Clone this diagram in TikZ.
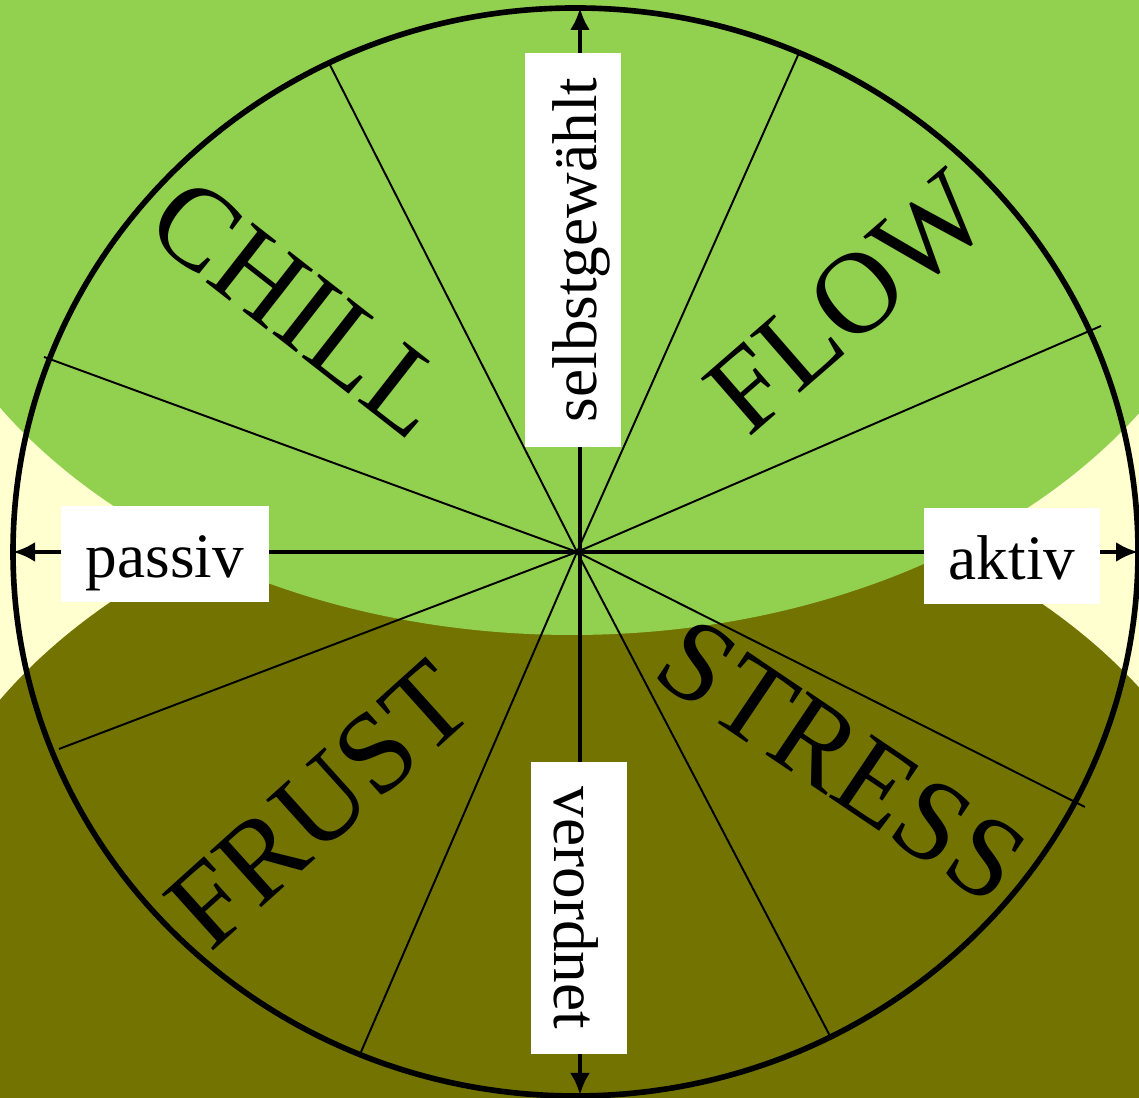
\documentclass[tikz,border=0pt]{standalone}
\usepackage{fontspec}
\setmainfont{Liberation Serif}
\usetikzlibrary{arrows.meta}
\definecolor{paleyellow}{RGB}{255,255,208}
\definecolor{chillgreen}{RGB}{146,208,80}
\definecolor{frustolive}{RGB}{114,115,0}

\begin{document}
\begin{tikzpicture}[>={Latex[length=2.2mm,width=2mm]},
	axtag/.style={fill=white, font=\fontsize{18}{20}\selectfont, inner xsep=2.5mm, inner ysep=0pt, text height=7.2mm, text depth=2.4mm},
	mood/.style={font=\fontsize{33}{33}\selectfont, inner sep=0pt}]
	\useasboundingbox (0,0) rectangle (11.39,10.98);
	\fill[paleyellow] (0,0) rectangle (11.39,10.98);
	\fill[frustolive] (5.75,1.44) ellipse [x radius=6.75, y radius=4.85];
	\fill[chillgreen] (5.72,9.48) ellipse [x radius=6.75, y radius=4.85];
	\coordinate (c) at (5.77,5.46);
	\foreach \x/\y in {3.30/10.33, 7.99/10.45, 0.44/7.41, 11.01/7.72, 0.59/3.49, 10.85/2.91, 3.61/0.46, 8.30/0.62}
		\draw[line width=0.55pt] (c) -- (\x,\y);
	\draw[line width=1.6pt] (5.755,5.46) ellipse [x radius=5.625, y radius=5.44];
	\coordinate (west) at (0.13,5.46);
	\coordinate (east) at (11.38,5.46);
	\coordinate (north) at (5.80,10.90);
	\coordinate (south) at (5.80,0.03);
	\draw[<->, line width=1.2pt] (west) -- (east);
	\draw[<->, line width=1.2pt] (south) -- (north);
	\node[axtag] (passiv) at (1.65,5.44) {passiv};
	\node[axtag] (aktiv) at (10.12,5.42) {aktiv};
	\node[axtag, rotate=90] (selbst) at (5.73,8.48) {selbstgewählt};
	\node[axtag, rotate=-90] (verord) at (5.79,1.90) {verordnet};
	\node[mood, rotate=-38] (chill) at (3.00,7.90) {CHILL};
	\node[mood, rotate=41] (flow) at (8.48,7.96) {FLOW};
	\node[mood, rotate=-34] (stress) at (8.42,3.37) {STRESS};
	\node[mood, rotate=42] (frust) at (3.19,2.93) {FRUST};
\end{tikzpicture}
\end{document}
